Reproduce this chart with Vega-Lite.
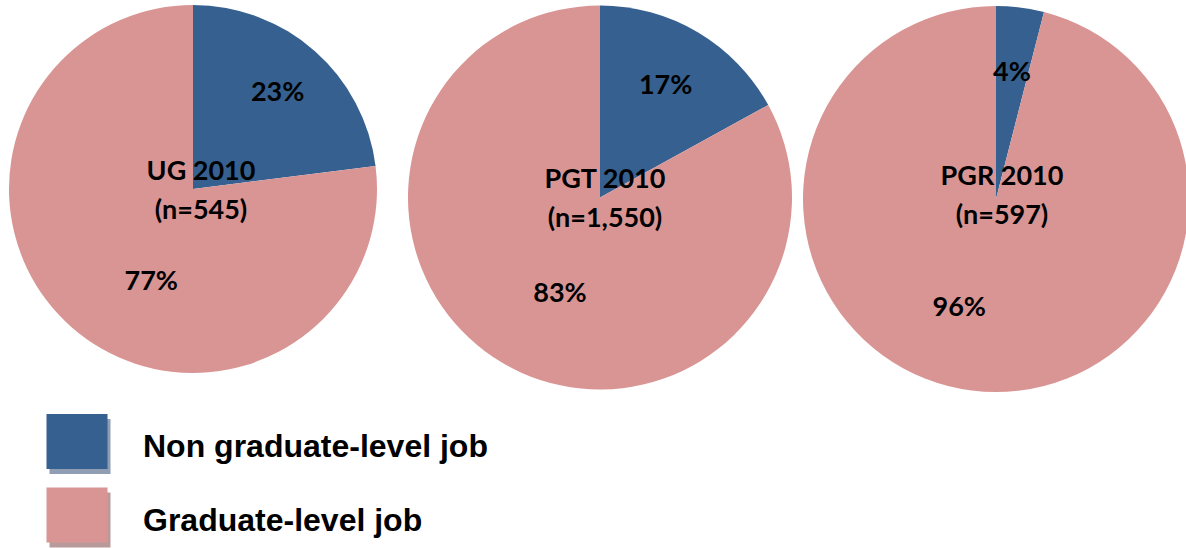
{
  "$schema": "https://vega.github.io/schema/vega-lite/v6.json",
  "padding": 0,
  "background": "white",
  "config": {"view": {"stroke": null}},
  "data": {"values": [
    {"cohort": "UG 2010", "title": "UG 2010\n(n=545)", "job": "Non graduate-level job", "share": 0.23},
    {"cohort": "UG 2010", "title": "UG 2010\n(n=545)", "job": "Graduate-level job", "share": 0.77},
    {"cohort": "PGT 2010", "title": "PGT 2010\n(n=1,550)", "job": "Non graduate-level job", "share": 0.17},
    {"cohort": "PGT 2010", "title": "PGT 2010\n(n=1,550)", "job": "Graduate-level job", "share": 0.83},
    {"cohort": "PGR 2010", "title": "PGR 2010\n(n=597)", "job": "Non graduate-level job", "share": 0.04},
    {"cohort": "PGR 2010", "title": "PGR 2010\n(n=597)", "job": "Graduate-level job", "share": 0.96}
  ]},
  "spacing": 0,
  "vconcat": [
    {
      "spacing": 0,
      "bounds": "flush",
      "hconcat": [
        {
          "width": 386, "height": 378,
          "transform": [{"filter": "datum.cohort === 'UG 2010'"}],
          "layer": [
            {"mark": {"type": "arc", "radius": 184},
             "encoding": {
               "theta": {"field": "share", "type": "quantitative", "stack": true},
               "order": {"field": "job", "sort": "descending"},
               "color": {"field": "job", "type": "nominal", "scale": {"domain": ["Non graduate-level job", "Graduate-level job"], "range": ["#36608F", "#D99594"]}, "legend": null}
             }},
            {"mark": {"type": "text", "radius": 128, "font": "Lato", "fontSize": 27, "fontWeight": "bold", "color": "black", "align": "center", "baseline": "middle"},
             "encoding": {
               "theta": {"field": "share", "type": "quantitative", "stack": true},
               "order": {"field": "job", "sort": "descending"},
               "detail": {"field": "job"},
               "text": {"condition": {"test": "datum.job === 'Non graduate-level job'", "field": "share", "type": "quantitative", "format": ".0%"}, "value": ""}
             }},
            {"mark": {"type": "text", "radius": 110, "dx": 31, "dy": 10, "font": "Lato", "fontSize": 27, "fontWeight": "bold", "color": "black", "align": "center", "baseline": "middle"},
             "encoding": {
               "theta": {"field": "share", "type": "quantitative", "stack": true},
               "order": {"field": "job", "sort": "descending"},
               "detail": {"field": "job"},
               "text": {"condition": {"test": "datum.job === 'Graduate-level job'", "field": "share", "type": "quantitative", "format": ".0%"}, "value": ""}
             }},
            {"transform": [{"filter": "datum.job === 'Non graduate-level job'"}],
             "mark": {"type": "text", "lineBreak": "\n", "lineHeight": 39, "dx": 8, "dy": -17, "font": "Lato", "fontSize": 27, "fontWeight": "bold", "color": "black", "align": "center", "baseline": "middle"},
             "encoding": {"text": {"field": "title"}}}
          ]
        },
        {
          "width": 428, "height": 395,
          "transform": [{"filter": "datum.cohort === 'PGT 2010'"}],
          "layer": [
            {"mark": {"type": "arc", "radius": 192},
             "encoding": {
               "theta": {"field": "share", "type": "quantitative", "stack": true},
               "order": {"field": "job", "sort": "descending"},
               "color": {"field": "job", "type": "nominal", "scale": {"domain": ["Non graduate-level job", "Graduate-level job"], "range": ["#36608F", "#D99594"]}, "legend": null}
             }},
            {"mark": {"type": "text", "radius": 129, "font": "Lato", "fontSize": 27, "fontWeight": "bold", "color": "black", "align": "center", "baseline": "middle"},
             "encoding": {
               "theta": {"field": "share", "type": "quantitative", "stack": true},
               "order": {"field": "job", "sort": "descending"},
               "detail": {"field": "job"},
               "text": {"condition": {"test": "datum.job === 'Non graduate-level job'", "field": "share", "type": "quantitative", "format": ".0%"}, "value": ""}
             }},
            {"mark": {"type": "text", "radius": 110, "dx": 16, "dy": 2, "font": "Lato", "fontSize": 27, "fontWeight": "bold", "color": "black", "align": "center", "baseline": "middle"},
             "encoding": {
               "theta": {"field": "share", "type": "quantitative", "stack": true},
               "order": {"field": "job", "sort": "descending"},
               "detail": {"field": "job"},
               "text": {"condition": {"test": "datum.job === 'Graduate-level job'", "field": "share", "type": "quantitative", "format": ".0%"}, "value": ""}
             }},
            {"transform": [{"filter": "datum.job === 'Non graduate-level job'"}],
             "mark": {"type": "text", "lineBreak": "\n", "lineHeight": 39, "dx": 5, "dy": -18, "font": "Lato", "fontSize": 27, "fontWeight": "bold", "color": "black", "align": "center", "baseline": "middle"},
             "encoding": {"text": {"field": "title"}}}
          ]
        },
        {
          "width": 364, "height": 398,
          "transform": [{"filter": "datum.cohort === 'PGR 2010'"}],
          "layer": [
            {"mark": {"type": "arc", "radius": 193},
             "encoding": {
               "theta": {"field": "share", "type": "quantitative", "stack": true},
               "order": {"field": "job", "sort": "descending"},
               "color": {"field": "job", "type": "nominal", "scale": {"domain": ["Non graduate-level job", "Graduate-level job"], "range": ["#36608F", "#D99594"]}, "legend": null}
             }},
            {"mark": {"type": "text", "radius": 127, "font": "Lato", "fontSize": 27, "fontWeight": "bold", "color": "black", "align": "center", "baseline": "middle"},
             "encoding": {
               "theta": {"field": "share", "type": "quantitative", "stack": true},
               "order": {"field": "job", "sort": "descending"},
               "detail": {"field": "job"},
               "text": {"condition": {"test": "datum.job === 'Non graduate-level job'", "field": "share", "type": "quantitative", "format": ".0%"}, "value": ""}
             }},
            {"mark": {"type": "text", "radius": 110, "dx": -23, "dy": 0, "font": "Lato", "fontSize": 27, "fontWeight": "bold", "color": "black", "align": "center", "baseline": "middle"},
             "encoding": {
               "theta": {"field": "share", "type": "quantitative", "stack": true},
               "order": {"field": "job", "sort": "descending"},
               "detail": {"field": "job"},
               "text": {"condition": {"test": "datum.job === 'Graduate-level job'", "field": "share", "type": "quantitative", "format": ".0%"}, "value": ""}
             }},
            {"transform": [{"filter": "datum.job === 'Non graduate-level job'"}],
             "mark": {"type": "text", "lineBreak": "\n", "lineHeight": 39, "dx": 6, "dy": -22, "font": "Lato", "fontSize": 27, "fontWeight": "bold", "color": "black", "align": "center", "baseline": "middle"},
             "encoding": {"text": {"field": "title"}}}
          ]
        }
      ]
    },
    {
      "width": 154, "height": 150,
      "transform": [{"filter": "datum.cohort === 'UG 2010'"}],
      "encoding": {
        "y": {"field": "job", "type": "nominal", "scale": {"type": "point", "padding": 0, "domain": ["Non graduate-level job", "Graduate-level job"], "range": [43.5, 117]}, "axis": null}
      },
      "layer": [
        {"mark": {"type": "point", "shape": "M-1,-0.9H1V0.9H-1Z", "size": 3721, "filled": true, "opacity": 1, "xOffset": 3, "yOffset": 5},
         "encoding": {"fill": {"field": "job", "type": "nominal", "scale": {"domain": ["Non graduate-level job", "Graduate-level job"], "range": ["#8F9EB3", "#B99A9B"]}, "legend": null}}},
        {"mark": {"type": "point", "shape": "M-1,-0.9H1V0.9H-1Z", "size": 3721, "filled": true, "opacity": 1},
         "encoding": {"color": {"field": "job", "type": "nominal", "scale": {"domain": ["Non graduate-level job", "Graduate-level job"], "range": ["#36608F", "#D99594"]}, "legend": null}}},
        {"mark": {"type": "text", "align": "left", "baseline": "alphabetic", "dx": 66, "dy": 15.5, "font": "Liberation Sans", "fontSize": 32, "fontWeight": "bold", "color": "black"},
         "encoding": {"text": {"field": "job"}}}
      ]
    }
  ]
}
